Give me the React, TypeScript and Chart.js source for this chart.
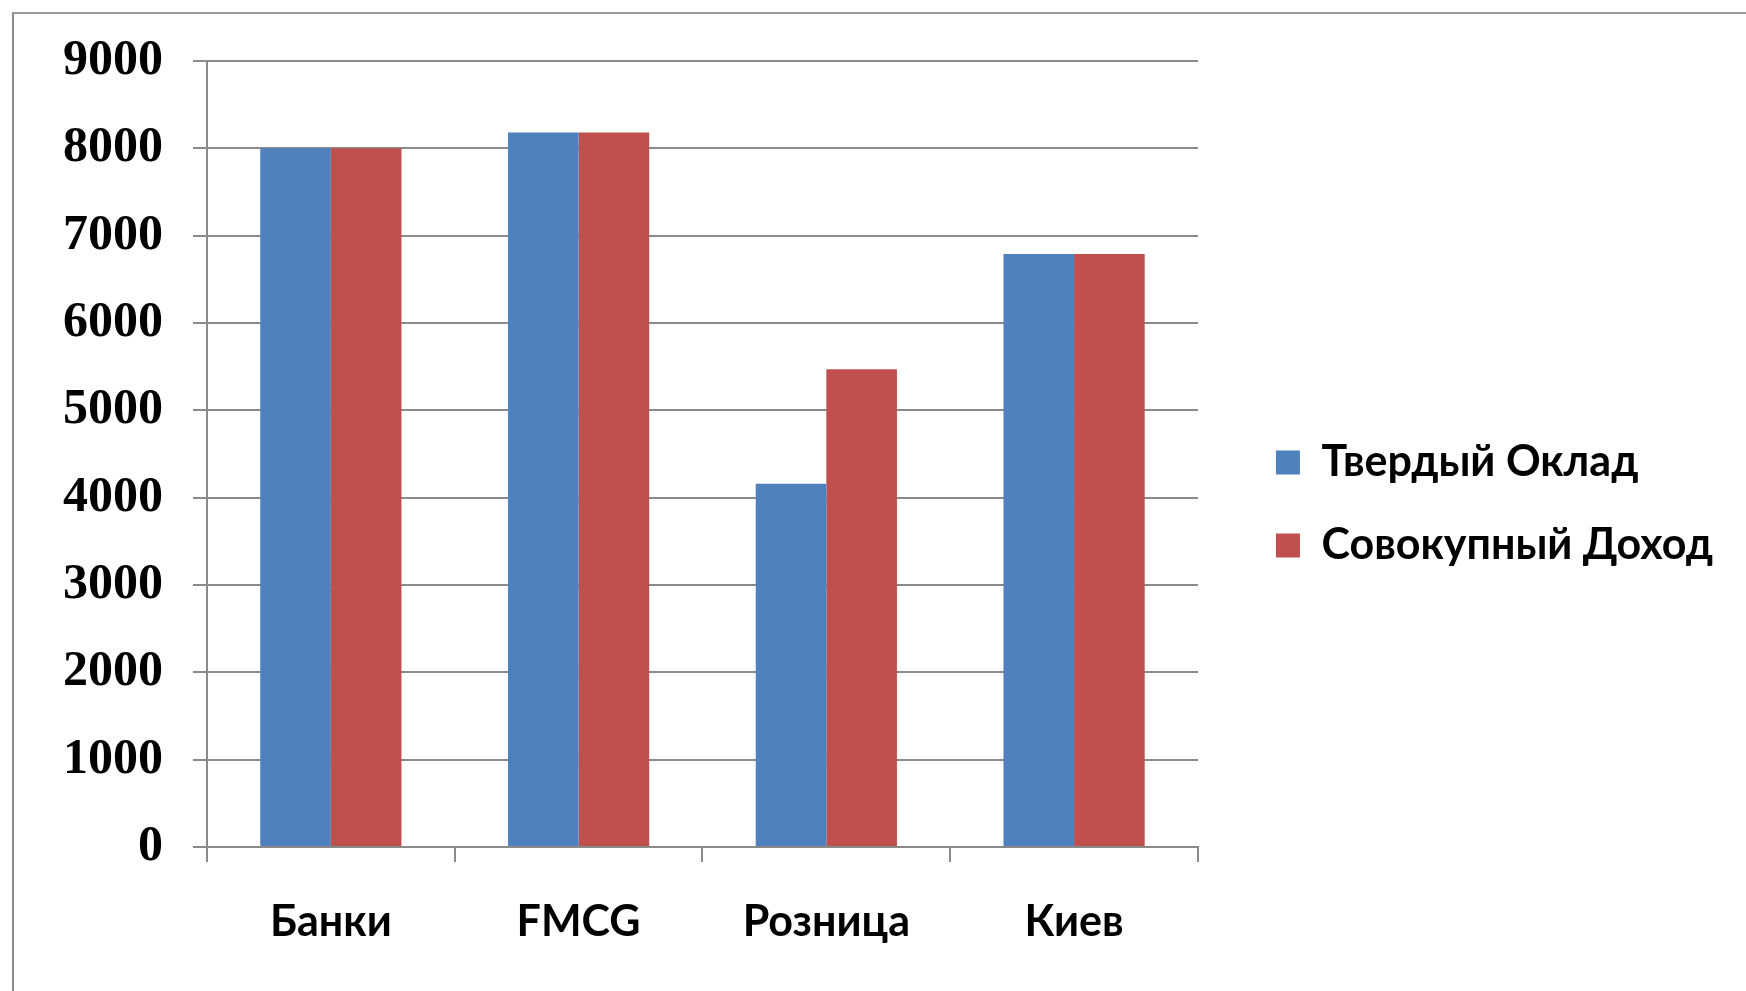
import React, { useEffect, useRef } from "react";
import { Chart, registerables } from "chart.js";

Chart.register(...registerables);

// Categories and the two salary series (UAH)
const categories = ["Банки", "FMCG", "Розница", "Киев"];
const fixedSalary = [8000, 8180, 4160, 6790];
const totalIncome = [8000, 8180, 5470, 6790];
const seriesNames = ["Твердый Оклад", "Совокупный Доход"];
const yTickValues = [0, 1000, 2000, 3000, 4000, 5000, 6000, 7000, 8000, 9000];

const BLUE = "#4F81BD";
const RED = "#C0504D";
const GRID = "#8a8a8a";
const LABEL_FONT = "Lato, 'Open Sans', sans-serif";

const WIDTH = 1746;
const HEIGHT = 991;
const PLOT_LEFT = 207;
const PLOT_RIGHT = 1197;
const LEGEND_GAP = 38;
const LEGEND_PAD = 40;
const LEGEND_BOX = 24;
const LEGEND_FONT_SIZE = 43;

// Width the legend box will need, so the plot keeps its right edge.
function legendWidth(): number {
  const ctx = document.createElement("canvas").getContext("2d");
  if (!ctx) return 490;
  ctx.font = `bold ${LEGEND_FONT_SIZE}px ${LABEL_FONT}`;
  const textW = Math.max(...seriesNames.map((n) => ctx.measureText(n).width));
  return LEGEND_PAD + LEGEND_BOX + LEGEND_FONT_SIZE / 2 + textW + 10;
}

export default function App() {
  const canvasRef = useRef<HTMLCanvasElement | null>(null);

  useEffect(() => {
    const canvas = canvasRef.current;
    if (!canvas) return;
    const padRight = Math.max(0, Math.floor(WIDTH - PLOT_RIGHT - LEGEND_GAP - legendWidth()));
    const chart = new Chart(canvas, {
      type: "bar",
      data: {
        labels: categories,
        datasets: [
          {
            label: seriesNames[0],
            data: fixedSalary,
            backgroundColor: BLUE,
            borderWidth: 0,
            categoryPercentage: 0.57,
            barPercentage: 1.0,
          },
          {
            label: seriesNames[1],
            data: totalIncome,
            backgroundColor: RED,
            borderWidth: 0,
            categoryPercentage: 0.57,
            barPercentage: 1.0,
          },
        ],
      },
      options: {
        responsive: false,
        animation: false,
        devicePixelRatio: 1,
        layout: { padding: { left: 0, top: 61, bottom: 44, right: padRight } },
        plugins: {
          tooltip: { enabled: false },
          legend: {
            position: "right",
            align: "center",
            maxWidth: 800,
            labels: {
              boxWidth: LEGEND_BOX,
              boxHeight: LEGEND_BOX,
              padding: LEGEND_PAD,
              color: "#000",
              font: { family: LABEL_FONT, size: LEGEND_FONT_SIZE, weight: "bold" },
            },
          },
        },
        scales: {
          x: {
            offset: true,
            grid: {
              display: true,
              offset: true,
              drawOnChartArea: false,
              drawTicks: true,
              tickLength: 15,
              color: GRID,
              lineWidth: 2,
            },
            border: { display: true, color: GRID, width: 2 },
            ticks: {
              color: "#000",
              padding: 34,
              maxRotation: 0,
              font: { family: LABEL_FONT, size: 43, weight: "bold" },
            },
            afterFit: (s: any) => {
              s.height = 100;
            },
          },
          y: {
            min: 0,
            max: 9000,
            afterBuildTicks: (s: any) => {
              s.ticks = yTickValues.map((v) => ({ value: v }));
            },
            grid: {
              color: GRID,
              lineWidth: 2,
              tickLength: 14,
            },
            border: { display: true, color: GRID, width: 2 },
            ticks: {
              color: "#000",
              padding: 30,
              callback: (v: any) => String(v),
              font: { family: "'Liberation Serif', serif", size: 50, weight: "bold" },
            },
            afterFit: (s: any) => {
              s.width = PLOT_LEFT;
            },
          },
          // empty spacer between the plot and the legend
          gap: {
            type: "linear",
            position: "right",
            display: true,
            grid: { display: false },
            border: { display: false },
            ticks: { display: false },
            afterFit: (s: any) => {
              s.width = LEGEND_GAP;
            },
          },
        },
      },
    });
    return () => chart.destroy();
  }, []);

  return (
    <div
      style={{
        position: "absolute",
        left: 0,
        top: 0,
        width: WIDTH,
        height: HEIGHT,
        overflow: "hidden",
        background: "#fff",
      }}
    >
      <div
        style={{
          position: "absolute",
          left: 12,
          top: 12,
          width: 1800,
          height: 1100,
          borderTop: "2px solid #9a9a9a",
          borderLeft: "2px solid #8c8c8c",
        }}
      />
      <canvas
        ref={canvasRef}
        width={WIDTH}
        height={HEIGHT}
        style={{ position: "absolute", left: 0, top: 0, display: "block" }}
      />
    </div>
  );
}
